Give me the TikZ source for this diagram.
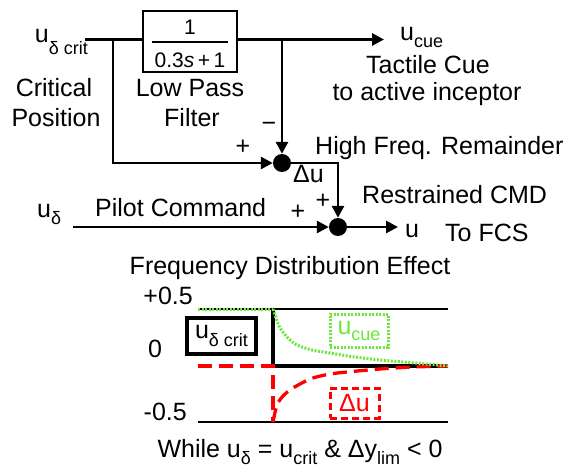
\documentclass[tikz,border=0pt]{standalone}
\usepackage{fontspec}
\setmainfont{Liberation Sans}
\usetikzlibrary{arrows.meta}
\definecolor{cuegreen}{RGB}{110,230,60}
\definecolor{dured}{RGB}{255,0,0}
\newcommand{\sbx}[2][7pt]{\raisebox{-#1}{\fontsize{18}{18}\selectfont #2}}
\begin{document}
\begin{tikzpicture}[x=1pt,y=-1pt,
  txt/.style={font=\fontsize{25}{30}\selectfont, inner sep=0pt},
  fracstyle/.style={font=\fontsize{21}{24}\selectfont, inner sep=0pt},
  sig/.style={line width=2.8pt},
  arr/.style={sig,-{Triangle[length=12pt,width=12pt]}},
  sumpt/.style={circle,fill=black,minimum size=18pt,inner sep=0pt},
  refline/.style={line width=1.5pt},
  cueline/.style={cuegreen,line width=3pt,dash pattern=on 2pt off 1.5pt},
  duline/.style={dured,line width=3.3pt,dash pattern=on 14pt off 7pt}
]
\useasboundingbox (0,0) rectangle (571,468);

% ---------- block diagram ----------
\node[draw,line width=2pt,minimum width=94pt,minimum height=61pt,inner sep=0pt] (lpf) at (190,41.5) {};
\node[fracstyle] (num) at (190,27) {1};
\node[fracstyle] (den) at (190,60) {0.3\textit{s}\,+\,1};
\draw[line width=1.2pt] (152,42) -- (228,42);

\node[sumpt] (s1) at (282,163) {};
\node[sumpt] (s2) at (338,227) {};

\coordinate (cin) at (85,39.5);
\coordinate (br1) at (113,39.5);
\coordinate (br2) at (282,39.5);
\coordinate (cuetip) at (384,39.5);
\coordinate (udstart) at (73,227);
\coordinate (uout) at (398,227);

\draw[sig] (cin) -- (cin -| lpf.west);
\draw[arr] (cin -| lpf.east) -- (cuetip);
\draw[arr] (br1) |- (s1);
\draw[arr] (br2) -- (s1);
\draw[arr] (s1) -| (s2);
\draw[arr] (udstart) -- (s2);
\draw[arr] (s2) -- (uout);

\node[txt,anchor=base east] (ucrit) at (88,43) {u\sbx[12pt]{δ crit}};
\node[txt,anchor=base] (crit1) at (54,97) {Critical};
\node[txt,anchor=base] (crit2) at (56,127) {Position};
\node[txt,anchor=base] (lp1) at (190,97) {Low Pass};
\node[txt,anchor=base] (lp2) at (192,127) {Filter};
\node[txt,anchor=base west] (ucue) at (400,41) {u\sbx{cue}};
\node[txt,anchor=base] (tc1) at (428,74) {Tactile Cue};
\node[txt,anchor=base] (tc2) at (427,101) {to active inceptor};
\node[txt] (minus) at (269,127) {−};
\node[txt] (plus1) at (243,147) {+};
\node[txt,anchor=base west] (hf) at (315,155) {High Freq. Remainder};
\node[txt,anchor=base west] (du) at (293,183) {Δu};
\node[txt] (plus2) at (323,201) {+};
\node[txt] (plus3) at (298,212) {+};
\node[txt,anchor=base west] (rc) at (362,204) {Restrained CMD};
\node[txt,anchor=base west] (fcs) at (445,242) {To FCS};
\node[txt,anchor=base west] (uu) at (405,237) {u};
\node[txt,anchor=base west] (ud) at (37,218) {u\sbx{δ}};
\node[txt,anchor=base west] (pc) at (95,217) {Pilot Command};

% ---------- plot ----------
\node[txt,anchor=base] (fde) at (290,275) {Frequency Distribution Effect};
\node[txt,anchor=base east] (p05) at (193,304) {+0.5};
\node[txt,anchor=base] (zero) at (155,357) {0};
\node[txt,anchor=base east] (m05) at (187,420) {-0.5};

\draw[refline] (198,309) -- (448,309);
\draw[refline] (198,422) -- (448,422);
\draw[line width=3.3pt] (273,309) -- (273,366) -- (448,366);
\draw[duline] (198,366) -- (273,366) -- (273,422);
\draw[duline] plot[smooth] coordinates {(273,422) (277,405) (283,396) (290,390) (300,384) (313,378) (330,374) (347,372) (380,369) (413,367) (448,366)};
\draw[cueline] (198,309) -- (273,309);
\draw[cueline] plot[smooth] coordinates {(273,309) (276,318) (280,328) (288,338) (297,345) (312,350) (330,353) (355,357) (380,360) (415,363) (448,366)};

\node[txt,draw,line width=3.3pt,minimum width=69pt,minimum height=36pt] (bcrit) at (221.5,336) {u\sbx[8pt]{δ crit}};
\node[txt,draw=cuegreen,text=cuegreen,line width=3pt,dash pattern=on 2pt off 1.5pt,minimum width=58pt,minimum height=33pt] (bcue) at (359,330.5) {u\sbx[6pt]{cue}};
\node[txt,draw=dured,text=dured,line width=3pt,dash pattern=on 7pt off 4pt,minimum width=49pt,minimum height=30pt] (bdu) at (354.5,403) {Δu};

\node[txt,anchor=base] (wh) at (300,457) {While u\sbx{δ} = u\sbx{crit} \& Δy\sbx{lim} < 0};
\end{tikzpicture}
\end{document}
